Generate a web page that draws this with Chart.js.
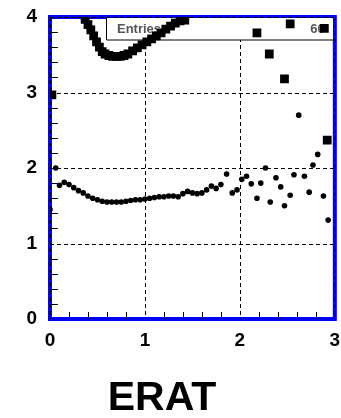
<!DOCTYPE html>
<html>
<head>
<meta charset="utf-8">
<script src="https://cdn.jsdelivr.net/npm/chart.js@4.4.1/dist/chart.umd.min.js"></script>
<style>
  html, body { margin: 0; padding: 0; background: #fff; }
  #wrap { width: 341px; height: 418px; }
</style>
</head>
<body>
<div id="wrap"><canvas id="erat"></canvas></div>
<script>
// squares (upper series)
const squareX = [0.02, 0.37, 0.40, 0.43, 0.46, 0.49, 0.52, 0.55, 0.58, 0.62, 0.66, 0.70, 0.74, 0.78, 0.82, 0.87,
                 0.92, 0.97, 1.02, 1.07, 1.12, 1.17, 1.22, 1.27, 1.32, 1.37, 1.42,
                 2.18, 2.31, 2.47, 2.53, 2.89, 2.92];
const squareY = [2.97, 3.97, 3.90, 3.83, 3.75, 3.67, 3.60, 3.54, 3.51, 3.49, 3.48, 3.48, 3.48, 3.49, 3.51, 3.55,
                 3.59, 3.63, 3.67, 3.71, 3.75, 3.79, 3.84, 3.88, 3.92, 3.95, 3.96,
                 3.79, 3.51, 3.18, 3.91, 3.85, 2.37];

// dots (lower series)
const dotX = [0.00, 0.06, 0.10, 0.15, 0.20, 0.25, 0.30, 0.35, 0.40, 0.45, 0.50, 0.55, 0.60, 0.65, 0.70, 0.75,
              0.80, 0.85, 0.90, 0.95, 1.00, 1.05, 1.10, 1.15, 1.20, 1.25, 1.30, 1.35, 1.40, 1.45, 1.50, 1.55,
              1.60, 1.65, 1.70, 1.75, 1.80, 1.86, 1.92, 1.97, 2.02, 2.07, 2.12, 2.18, 2.22, 2.27, 2.32, 2.38,
              2.43, 2.47, 2.53, 2.57, 2.62, 2.68, 2.73, 2.77, 2.82, 2.88, 2.93];
const dotY = [1.45, 2.00, 1.77, 1.81, 1.78, 1.74, 1.70, 1.67, 1.63, 1.60, 1.58, 1.56, 1.55, 1.55, 1.55, 1.55,
              1.56, 1.57, 1.58, 1.58, 1.59, 1.60, 1.61, 1.62, 1.62, 1.63, 1.63, 1.62, 1.66, 1.69, 1.67, 1.66,
              1.67, 1.71, 1.76, 1.73, 1.78, 1.92, 1.67, 1.71, 1.85, 1.89, 1.79, 1.60, 1.80, 2.00, 1.55, 1.87,
              1.75, 1.50, 1.64, 1.91, 2.70, 1.89, 1.68, 2.04, 2.18, 1.63, 1.31];

const xTicks = [0, 1, 2, 3];
const yTicks = [0, 1, 2, 3, 4];
const titleText = "ERAT";
const statLabel = "Entries";
const statValue = "60";

const toPts = (xs, ys) => xs.map((x, i) => ({ x: x, y: ys[i] }));

// frame, dashed grid, inner minor ticks, stats box, title
const framePlugin = {
    id: "frame",
    beforeDatasetsDraw(chart) {
        const ctx = chart.ctx;
        const a = chart.chartArea;
        const xs = chart.scales.x, ys = chart.scales.y;
        ctx.save();

        ctx.strokeStyle = "#0000ff";
        ctx.lineWidth = 4;
        ctx.strokeRect(a.left, a.top, a.right - a.left, a.bottom - a.top);

        // minor ticks every 0.2
        ctx.strokeStyle = "#000";
        ctx.lineWidth = 1;
        ctx.beginPath();
        for (let i = 1; i < 20; i++) {
            const v = i * 0.2;
            if (Math.abs(v - Math.round(v)) < 1e-6) continue;
            const py = Math.round(ys.getPixelForValue(v)) + 0.5;
            ctx.moveTo(a.left, py);
            ctx.lineTo(a.left + 8, py);
        }
        for (let i = 1; i < 15; i++) {
            const v = i * 0.2;
            if (Math.abs(v - Math.round(v)) < 1e-6) continue;
            const px = Math.round(xs.getPixelForValue(v)) + 0.5;
            ctx.moveTo(px, a.bottom);
            ctx.lineTo(px, a.bottom - 7);
        }
        ctx.stroke();

        // dashed grid
        ctx.setLineDash([4, 3]);
        ctx.beginPath();
        xTicks.forEach(v => {
            const px = Math.round(xs.getPixelForValue(v)) + 0.5;
            ctx.moveTo(px, a.top);
            ctx.lineTo(px, a.bottom);
        });
        yTicks.forEach(v => {
            if (v === 0) return;
            const py = Math.round(ys.getPixelForValue(v)) + 0.5;
            ctx.moveTo(a.left, py);
            ctx.lineTo(a.right, py);
        });
        ctx.stroke();
        ctx.setLineDash([]);

        // stats box
        const bx = xs.getPixelForValue(0.59);
        const by = a.top;
        const bw = a.right - bx;
        const bh = 23;
        ctx.fillStyle = "#fff";
        ctx.fillRect(bx, by + 1, bw - 2, bh - 1);
        ctx.beginPath();
        ctx.moveTo(Math.round(bx) + 0.5, by);
        ctx.lineTo(Math.round(bx) + 0.5, by + bh);
        ctx.lineTo(a.right, by + bh);
        ctx.stroke();
        ctx.fillStyle = "#555";
        ctx.font = "bold 13px 'Liberation Sans', Arial, sans-serif";
        ctx.textBaseline = "middle";
        ctx.textAlign = "left";
        ctx.fillText(statLabel, bx + 11, by + bh / 2 + 1);
        ctx.textAlign = "right";
        ctx.fillText(statValue, a.right - 10, by + bh / 2 + 1);
        ctx.restore();
    },
    afterDraw(chart) {
        const ctx = chart.ctx;
        ctx.save();
        ctx.fillStyle = "#000";
        ctx.font = "bold 41px 'Liberation Sans', Arial, sans-serif";
        ctx.textAlign = "center";
        ctx.textBaseline = "alphabetic";
        ctx.fillText(titleText, 162, 410);
        ctx.restore();
    }
};

const tickFont = { family: "'Liberation Sans', Arial, sans-serif", size: 19, weight: "bold" };

new Chart(document.getElementById("erat"), {
    type: "scatter",
    data: {
        datasets: [
            {
                data: toPts(dotX, dotY),
                pointStyle: "circle",
                pointRadius: 2.8,
                backgroundColor: "#000",
                borderColor: "#000",
                borderWidth: 0
            },
            {
                data: toPts(squareX, squareY),
                pointStyle: "rect",
                pointRadius: 6.2,
                backgroundColor: "#000",
                borderColor: "#000",
                borderWidth: 0
            },
            {
                data: toPts(squareX, squareY),
                pointStyle: "rect",
                pointRadius: 1,
                backgroundColor: "#fff",
                borderColor: "#fff",
                borderWidth: 0
            }
        ]
    },
    plugins: [framePlugin],
    options: {
        responsive: true,
        maintainAspectRatio: false,
        animation: false,
        layout: { padding: { left: 0, right: 5, top: 17, bottom: 0 } },
        plugins: {
            legend: { display: false },
            tooltip: { enabled: false }
        },
        scales: {
            x: {
                type: "linear",
                min: 0,
                max: 3,
                grid: { display: false, drawTicks: false },
                border: { display: false },
                ticks: { stepSize: 1, color: "#000", font: tickFont, padding: 10, maxRotation: 0 },
                afterFit: s => { s.height = 99; s.paddingLeft = 0; s.paddingRight = 0; }
            },
            y: {
                type: "linear",
                min: 0,
                max: 4,
                grid: { display: false, drawTicks: false },
                border: { display: false },
                ticks: { stepSize: 1, color: "#000", font: tickFont, padding: 13 },
                afterFit: s => { s.width = 50; s.paddingTop = 0; s.paddingBottom = 0; }
            }
        }
    }
});
</script>
</body>
</html>
